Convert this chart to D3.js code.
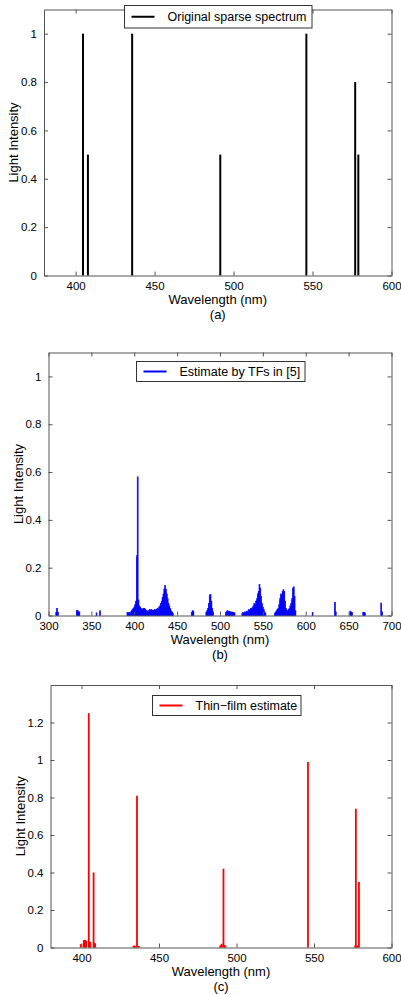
<!DOCTYPE html>
<html>
<head>
<meta charset="utf-8">
<script src="https://cdn.jsdelivr.net/npm/d3@7"></script>
<style>
  body { margin: 0; background: #fff; }
  svg { display: block; font-family: "Liberation Sans", Arial, sans-serif; }
</style>
</head>
<body>
<svg id="chart" width="401" height="995"></svg>
<script>
// (a) original sparse spectrum: mercury lines
var origWavelengths = [404.7, 407.8, 435.8, 491.6, 546.1, 577.0, 579.0];
var origValues      = [1.0,   0.5,   1.0,   0.5,   1.0,   0.8,   0.5];

// (b) estimate by TFs in [5], 1 nm samples (only non-zero ones)
var estWavelengths = [
  309, 310, 311, 333, 334, 335, 336, 356, 360,
  392, 393, 394, 395, 396, 397, 398, 399, 400, 401, 402, 403, 404, 405, 406, 407, 408, 409,
  410, 411, 412, 413, 414, 415, 416, 417, 418, 419, 420, 421, 422, 423, 424, 425, 426, 427, 428, 429,
  430, 431, 432, 433, 434, 435, 436, 437, 438, 439, 440, 441, 442, 443, 444, 445,
  467, 468, 469, 484, 485, 486, 487, 488, 489, 490, 491, 492,
  507, 508, 509, 510, 511, 512, 513, 514, 515, 516, 517,
  526, 527, 528, 529, 530, 531, 532, 533, 534, 535, 536, 537, 538, 539,
  540, 541, 542, 543, 544, 545, 546, 547, 548, 549, 550, 551, 552, 553,
  564, 565, 566, 567, 568, 569, 570, 571, 572, 573, 574, 575, 576, 577, 578, 579,
  580, 581, 582, 583, 584, 585, 586, 587, 588,
  608, 634, 635, 652, 653, 654, 667, 668, 669, 688, 689
];
var estValues = [
  0.012, 0.03, 0.012, 0.022, 0.02, 0.015, 0.015, 0.011, 0.02,
  0.012, 0.01, 0.012, 0.01, 0.015, 0.02, 0.025, 0.03, 0.035, 0.045, 0.06, 0.25, 0.58, 0.065, 0.04, 0.035, 0.03, 0.025,
  0.028, 0.03, 0.03, 0.025, 0.02, 0.02, 0.015, 0.02, 0.025, 0.02, 0.025, 0.02, 0.022, 0.02, 0.025, 0.022, 0.025, 0.03, 0.025, 0.035,
  0.04, 0.05, 0.06, 0.075, 0.09, 0.11, 0.125, 0.11, 0.09, 0.07, 0.05, 0.04, 0.03, 0.02, 0.015, 0.01,
  0.012, 0.02, 0.018, 0.012, 0.02, 0.03, 0.05, 0.085, 0.088, 0.06, 0.03, 0.015,
  0.012, 0.018, 0.02, 0.015, 0.018, 0.015, 0.012, 0.015, 0.012, 0.012, 0.01,
  0.01, 0.012, 0.01, 0.015, 0.012, 0.018, 0.015, 0.02, 0.025, 0.022, 0.03, 0.028, 0.035, 0.04,
  0.05, 0.045, 0.06, 0.07, 0.09, 0.1, 0.13, 0.115, 0.08, 0.05, 0.035, 0.025, 0.015, 0.01,
  0.01, 0.015, 0.02, 0.025, 0.03, 0.045, 0.07, 0.09, 0.085, 0.1, 0.108, 0.1, 0.06, 0.03, 0.02, 0.02,
  0.025, 0.03, 0.04, 0.05, 0.07, 0.115, 0.12, 0.08, 0.02,
  0.013, 0.055, 0.015, 0.018, 0.015, 0.012, 0.013, 0.013, 0.01, 0.052, 0.015
];

// (c) thin-film estimate
var thinWavelengths = [
  399.5, 401.5, 402.0, 402.5, 403.0, 404.7, 405.2, 405.7, 407.8, 408.3, 408.8,
  433.5, 434.0, 434.5, 435.8, 436.5, 437.0,
  489.5, 490.0, 490.5, 491.6, 492.2, 492.8,
  546.1, 576.5, 577.0, 577.7, 578.3, 579.0
];
var thinValues = [
  0.018, 0.04, 0.04, 0.04, 0.035, 1.25, 0.03, 0.03, 0.4, 0.025, 0.022,
  0.008, 0.01, 0.01, 0.81, 0.008, 0.008,
  0.01, 0.015, 0.02, 0.42, 0.012, 0.01,
  0.99, 0.01, 0.74, 0.01, 0.01, 0.35
];

var yTicksA = [0, 0.2, 0.4, 0.6, 0.8, 1];
var yTicksC = [0, 0.2, 0.4, 0.6, 0.8, 1, 1.2];
var xTicksA = [400, 450, 500, 550, 600];
var xTicksB = [300, 350, 400, 450, 500, 550, 600, 650, 700];

var svg = d3.select("#chart");
var fmt = function(d) { return String(+d.toFixed(1)); };

function drawPanel(cfg) {
    var x = d3.scaleLinear().domain(cfg.xDomain).range([cfg.left, cfg.right]);
    var y = d3.scaleLinear().domain(cfg.yDomain).range([cfg.bottom, cfg.top]);
    var g = svg.append("g");

    var data = cfg.wl.map(function(w, i) { return { w: w, v: cfg.vals[i] }; });

    // spectrum marks
    if (cfg.mode === "bars") {
        g.selectAll("rect.bar").data(data).enter().append("rect")
            .attr("class", "bar")
            .attr("x", function(d) { return x(d.w - 0.5); })
            .attr("width", function(d) { return x(d.w + 0.5) - x(d.w - 0.5); })
            .attr("y", function(d) { return y(d.v); })
            .attr("height", function(d) { return y(0) - y(d.v); })
            .attr("fill", cfg.color)
            .attr("stroke", cfg.color)
            .attr("stroke-width", 0.7);
    } else {
        g.selectAll("line.stem").data(data).enter().append("line")
            .attr("class", "stem")
            .attr("x1", function(d) { return x(d.w); })
            .attr("x2", function(d) { return x(d.w); })
            .attr("y1", y(0))
            .attr("y2", function(d) { return y(d.v); })
            .attr("stroke", cfg.color)
            .attr("stroke-width", cfg.stemWidth);
    }

    // axes, MATLAB-style box with inward ticks on all sides
    var axisColor = "#555";
    var bottomAxis = d3.axisBottom(x).tickValues(cfg.xTicks).tickSizeInner(-4).tickSizeOuter(0).tickPadding(6).tickFormat(d3.format("d"));
    var topAxis = d3.axisTop(x).tickValues(cfg.xTicks).tickSizeInner(-4).tickSizeOuter(0).tickFormat("");
    var leftAxis = d3.axisLeft(y).tickValues(cfg.yTicks).tickSizeInner(-4).tickSizeOuter(0).tickPadding(7).tickFormat(fmt);
    var rightAxis = d3.axisRight(y).tickValues(cfg.yTicks).tickSizeInner(-4).tickSizeOuter(0).tickFormat("");

    function style(sel) {
        sel.selectAll("path").attr("stroke", axisColor);
        sel.selectAll("line").attr("stroke", axisColor);
        sel.selectAll("text").attr("fill", "#000").style("font-size", "11.5px")
            .style("font-family", "'Liberation Sans', Arial, sans-serif");
    }
    g.append("g").attr("transform", "translate(0," + cfg.bottom + ")").call(bottomAxis).call(style);
    g.append("g").attr("transform", "translate(0," + cfg.top + ")").call(topAxis).call(style);
    g.append("g").attr("transform", "translate(" + cfg.left + ",0)").call(leftAxis).call(style);
    g.append("g").attr("transform", "translate(" + cfg.right + ",0)").call(rightAxis).call(style);

    // labels
    var cx = (cfg.left + cfg.right) / 2;
    g.append("text")
        .attr("x", cx).attr("y", cfg.bottom + 28)
        .attr("text-anchor", "middle").style("font-size", "13px")
        .text("Wavelength (nm)");
    g.append("text")
        .attr("x", cx).attr("y", cfg.bottom + 43)
        .attr("text-anchor", "middle").style("font-size", "13px")
        .text(cfg.tag);
    g.append("text")
        .attr("transform", "translate(" + (cfg.left - 26) + "," + ((cfg.top + cfg.bottom) / 2) + ") rotate(-90)")
        .attr("text-anchor", "middle").style("font-size", "13px")
        .text("Light Intensity");

    // legend
    var lg = cfg.legend;
    var legend = g.append("g");
    legend.append("rect")
        .attr("x", lg.x0).attr("y", lg.y0)
        .attr("width", lg.x1 - lg.x0).attr("height", lg.y1 - lg.y0)
        .attr("fill", "#fff").attr("stroke", "#333").attr("stroke-width", 1);
    var ly = (lg.y0 + lg.y1) / 2;
    legend.append("line")
        .attr("x1", lg.x0 + 7).attr("x2", lg.x0 + 30)
        .attr("y1", ly).attr("y2", ly)
        .attr("stroke", cfg.color).attr("stroke-width", 2);
    legend.append("text")
        .attr("x", lg.x0 + 43).attr("y", ly + 4.5)
        .style("font-size", "12.5px")
        .text(cfg.label);
}

drawPanel({
    left: 44, right: 391.5, top: 9.5, bottom: 275.5,
    xDomain: [380, 600], yDomain: [0, 1.1],
    xTicks: xTicksA, yTicks: yTicksA,
    wl: origWavelengths, vals: origValues,
    mode: "stems", stemWidth: 2, color: "#000",
    tag: "(a)", label: "Original sparse spectrum",
    legend: { x0: 124.5, x1: 312, y0: 5.5, y1: 28 }
});

drawPanel({
    left: 48.5, right: 391.5, top: 352.5, bottom: 615.5,
    xDomain: [300, 700], yDomain: [0, 1.1],
    xTicks: xTicksB, yTicks: yTicksA,
    wl: estWavelengths, vals: estValues,
    mode: "bars", color: "#0000ff",
    tag: "(b)", label: "Estimate by TFs in [5]",
    legend: { x0: 136.5, x1: 305, y0: 361.5, y1: 381.5 }
});

drawPanel({
    left: 50.5, right: 391.5, top: 685, bottom: 947.5,
    xDomain: [380, 600], yDomain: [0, 1.4],
    xTicks: xTicksA, yTicks: yTicksC,
    wl: thinWavelengths, vals: thinValues,
    mode: "stems", stemWidth: 1.8, color: "#ff0000",
    tag: "(c)", label: "Thin\u2212film estimate",
    legend: { x0: 152.5, x1: 301, y0: 695.5, y1: 715.5 }
});
</script>
</body>
</html>
